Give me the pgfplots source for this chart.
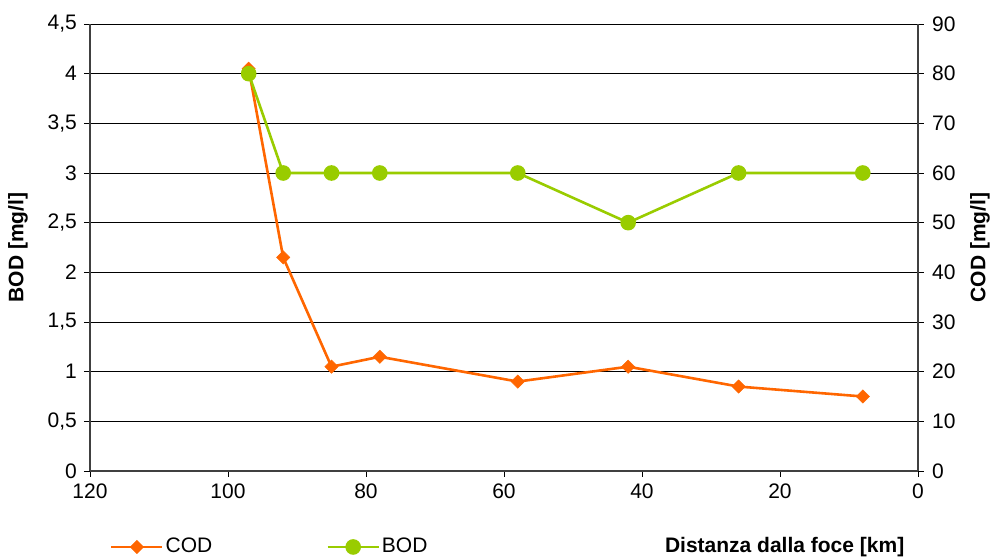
\documentclass[border=0pt]{standalone}
\usepackage{pgfplots}
\pgfplotsset{compat=1.18}
\usepackage{fontspec}
\setmainfont{Liberation Sans}
\definecolor{codc}{HTML}{FF6600}
\definecolor{bodc}{HTML}{99CC00}
\pgfplotstableread{
x cod bod
97 81 4
92 43 3
85 21 3
78 23 3
58 18 3
42 21 2.5
26 17 3
8 15 3
}\data
\begin{document}
\fontsize{21bp}{25bp}\selectfont
\begin{tikzpicture}
\pgfplotsset{
  every axis/.append style={
    scale only axis, width=828bp, height=447bp,
    xmin=0, xmax=120, x dir=reverse,
    /pgf/number format/assume math mode=true,
    /pgf/number format/use comma,
    tick label style={font=\fontsize{21bp}{25bp}\selectfont},
    label style={font=\fontsize{21bp}{25bp}\selectfont\bfseries},
    tick align=outside, major tick length=6bp,
    every tick/.style={black, line width=0.9bp},
  },
}
\begin{axis}[
  axis x line=none,
  axis y line*=right,
  ymin=0, ymax=90, ytick={0,10,...,90},
  ymajorgrids, major grid style={black, line width=0.9bp},
  axis line style={line width=1.2bp, color=black!75},
  ylabel={COD [mg/l]},
  ylabel style={at={(axis description cs:1.075,0.5)}, rotate=0, anchor=center},
  yticklabel style={xshift=1bp},
]
\addplot[codc, line width=2.6bp, mark=square*, mark size=4.7bp, mark options={fill=codc, line width=0.5bp, rotate=45}] table[x=x, y=cod] {\data};
\end{axis}
\begin{axis}[
  axis x line*=bottom, axis y line*=left,
  ymin=0, ymax=4.5, ytick={0,0.5,...,4.5},
  xtick={0,20,...,120},
  yticklabel style={/pgf/number format/fixed, /pgf/number format/precision=1},
  axis line style={line width=1.2bp, color=black!75},
  ylabel={BOD [mg/l]},
  ylabel style={at={(axis description cs:-0.087,0.5)}, anchor=center},
  xlabel={Distanza dalla foce [km]},
  xlabel style={at={(axis description cs:0.839,-0.17)}, anchor=center},
  legend style={at={(axis description cs:0.0205,-0.17)}, anchor=west, draw=none, fill=none,
    legend columns=2, font=\fontsize{21bp}{25bp}\selectfont,
    /tikz/every even column/.append style={column sep=112bp}},
  legend cell align=left,
  legend image code/.code={\draw[mark repeat=2,mark phase=2,#1] plot coordinates {(0bp,0bp) (25.5bp,0bp) (51bp,0bp)};},
]
\addlegendimage{codc, line width=2.6bp, mark=square*, mark size=4.7bp, mark options={fill=codc, line width=0.5bp, rotate=45}}
\addlegendentry{COD}
\addplot[bodc, line width=2.6bp, mark=*, mark size=6.5bp, mark options={fill=bodc}] table[x=x, y=bod] {\data};
\addlegendentry{BOD}
\coordinate (bl) at (axis description cs:-0.1087,-0.1946);
\coordinate (tr) at (axis description cs:1.0882,1.0537);
\end{axis}
\pgfresetboundingbox
\useasboundingbox (bl) rectangle (tr);
\end{tikzpicture}
\end{document}
